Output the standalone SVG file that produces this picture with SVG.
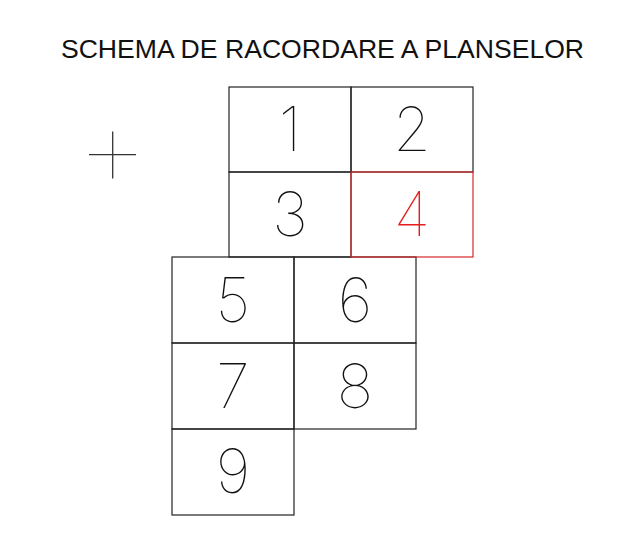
<svg xmlns="http://www.w3.org/2000/svg" width="631" height="540" viewBox="0 0 631 540">
<style>
.cell{fill:none;stroke:#222;stroke-width:1.2}
.red{stroke:#d42a2a}
.num{font-family:Inter,"DejaVu Sans",sans-serif;font-weight:100;font-size:61px;fill:#111;text-anchor:middle}
.rnum{fill:#e81c1c}
.title{font-family:"Liberation Sans",Arial,sans-serif;font-size:26.6px;fill:#111;text-anchor:middle}
</style>
<rect width="631" height="540" fill="#fff"/>
<text class="title" x="322.5" y="57.5">SCHEMA DE RACORDARE A PLANSELOR</text>
<g id="cross" stroke="#333" stroke-width="1.3">
<line x1="89" y1="154.7" x2="136" y2="154.7"/>
<line x1="112.7" y1="131.5" x2="112.7" y2="178.5"/>
</g>
<g id="p1"><rect class="cell" x="229" y="87" width="122" height="85"/><text class="num" x="290" y="151">1</text></g>
<g id="p2"><rect class="cell" x="351" y="87" width="122" height="85"/><text class="num" x="412" y="151">2</text></g>
<g id="p3"><rect class="cell" x="229" y="172" width="122" height="85"/><text class="num" x="290" y="236">3</text></g>
<g id="p5"><rect class="cell" x="172" y="257" width="122" height="86"/><text class="num" x="233" y="322">5</text></g>
<g id="p6"><rect class="cell" x="294" y="257" width="122" height="86"/><text class="num" x="355" y="322">6</text></g>
<g id="p7"><rect class="cell" x="172" y="343" width="122" height="86"/><text class="num" x="233" y="408">7</text></g>
<g id="p8"><rect class="cell" x="294" y="343" width="122" height="86"/><text class="num" x="355" y="408">8</text></g>
<g id="p9"><rect class="cell" x="172" y="429" width="122" height="86"/><text class="num" x="233" y="493">9</text></g>
<g id="p4"><rect class="cell red" x="351" y="172" width="122" height="85"/><text class="num rnum" x="412" y="236">4</text></g>
</svg>
